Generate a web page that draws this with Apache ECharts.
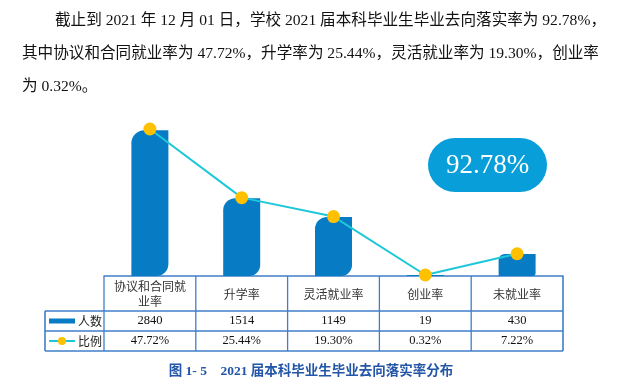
<!DOCTYPE html>
<html><head><meta charset="utf-8">
<script src="https://cdn.jsdelivr.net/npm/echarts@6/dist/echarts.min.js"></script>
<style>html,body{margin:0;padding:0;background:#fff}#c{width:628px;height:389px}</style>
</head><body><div id="c"></div>
<script>
const categories = ['协议和合同就业率', '升学率', '灵活就业率', '创业率', '未就业率'];
const counts = [2840, 1514, 1149, 19, 430];
const ratios = [47.72, 25.44, 19.30, 0.32, 7.22];
const ratioLabels = ['47.72%', '25.44%', '19.30%', '0.32%', '7.22%'];
const seriesNames = ['人数', '比例'];
const totalRate = '92.78%';
const paragraphLines = [
  '截止到 2021 年 12 月 01 日，学校 2021 届本科毕业生毕业去向落实率为 92.78%，',
  '其中协议和合同就业率为 47.72%，升学率为 25.44%，灵活就业率为 19.30%，创业率',
  '为 0.32%。'
];
const caption = '图 1- 5    2021 届本科毕业生毕业去向落实率分布';

const BAR = '#077cc4', LINE = '#1cc8d8', DOT = '#ffc000', TBL = '#3f7fc8';
const SERIF = "'Liberation Serif','Noto Sans CJK SC'";
const SANS = "'Noto Sans CJK SC'";

const chart = echarts.init(document.getElementById('c'), null, {renderer: 'canvas'});
const radii = [[13,0,12,0],[12,0,11,0],[12,0,11,0],[0,0,0,0],[6,0,3,0]];

const valueAxisCommon = {type: 'category', position: 'bottom', offset: 0,
  axisLine: {show: false}, axisTick: {show: false}, splitLine: {show: false}};

chart.setOption({
  animation: false,
  grid: {left: 104, right: 65, top: 122, bottom: 113},
  xAxis: [
    {type: 'category', data: categories, position: 'bottom',
     axisLine: {show: true, lineStyle: {color: TBL, width: 1.5}},
     axisTick: {show: false},
     axisLabel: {interval: 0, margin: 18, verticalAlign: 'middle', width: 80, overflow: 'break',
       lineHeight: 15, fontSize: 12, color: '#333', fontFamily: SANS}},
    Object.assign({}, valueAxisCommon, {data: counts.map(String),
     axisLabel: {interval: 0, margin: 45, verticalAlign: 'middle', fontSize: 12.5, color: '#111', fontFamily: SERIF}}),
    Object.assign({}, valueAxisCommon, {data: ratioLabels,
     axisLabel: {interval: 0, margin: 65, verticalAlign: 'middle', fontSize: 12.5, color: '#111', fontFamily: SERIF}})
  ],
  yAxis: [
    {type: 'value', min: 0, max: 3000, show: false, splitLine: {show: false}},
    {type: 'value', min: 0, max: 50, show: false, splitLine: {show: false}}
  ],
  series: [
    {name: seriesNames[0], type: 'bar', barWidth: 37, yAxisIndex: 0,
     data: counts.map((v, i) => ({value: v, itemStyle: {borderRadius: radii[i]}})),
     itemStyle: {color: BAR}, z: 2},
    {name: seriesNames[1], type: 'line', yAxisIndex: 1, data: ratios,
     symbol: 'circle', symbolSize: 13, itemStyle: {color: DOT},
     lineStyle: {color: LINE, width: 2}, z: 3}
  ]
});

// table + decorations
const cx = categories.map((c, i) => chart.convertToPixel({xAxisIndex: 0}, i));
const colW = cx[1] - cx[0];
const edges = cx.map(x => x - colW / 2).concat([cx[cx.length - 1] + colW / 2]);
const axisY = chart.convertToPixel({yAxisIndex: 0}, 0);
const tblLeft = 45, row1 = axisY + 35, row2 = row1 + 20, bottom = row2 + 20;
const els = [];
const ln = (x1, y1, x2, y2, w) => els.push({type: 'line', shape: {x1, y1, x2, y2},
  style: {stroke: TBL, lineWidth: w || 1.3}, silent: true});
edges.forEach((x, i) => ln(x, axisY, x, bottom, (i === edges.length - 1) ? 1.6 : 1.3));
ln(tblLeft, row1, edges[edges.length - 1], row1, 1.6);
ln(tblLeft, row2, edges[edges.length - 1], row2, 1.6);
ln(tblLeft, bottom, edges[edges.length - 1], bottom, 1.6);
ln(tblLeft, row1, tblLeft, bottom, 1.6);
// legend cells
const l1 = (row1 + row2) / 2, l2 = (row2 + bottom) / 2;
els.push({type: 'rect', shape: {x: 49, y: l1 - 2.5, width: 26, height: 5}, style: {fill: BAR}});
els.push({type: 'line', shape: {x1: 49, y1: l2, x2: 75, y2: l2}, style: {stroke: LINE, lineWidth: 2}});
els.push({type: 'circle', shape: {cx: 62, cy: l2, r: 4}, style: {fill: DOT}});
els.push({type: 'text', x: 78, y: l1, style: {text: seriesNames[0], font: '12px ' + SANS, fill: '#222', verticalAlign: 'middle'}});
els.push({type: 'text', x: 78, y: l2, style: {text: seriesNames[1], font: '12px ' + SANS, fill: '#222', verticalAlign: 'middle'}});
// badge
els.push({type: 'rect', shape: {x: 428, y: 138, width: 119, height: 54, r: 27}, style: {fill: '#089ed9'}});
els.push({type: 'text', x: 487.5, y: 166, style: {text: totalRate, font: '27px ' + SERIF, fill: '#fff', align: 'center', verticalAlign: 'middle'}});
// paragraph
const paraX = [55, 22, 22], paraY = [21, 54, 87];
paragraphLines.forEach((t, i) => els.push({type: 'text', x: paraX[i], y: paraY[i],
  style: {text: t, font: '15.6px ' + SERIF, fill: '#111', verticalAlign: 'middle'}}));
// caption
els.push({type: 'text', x: 311, y: 372, style: {text: caption, font: 'bold 13.5px ' + SERIF, fill: '#2356a6', align: 'center', verticalAlign: 'middle'}});
chart.setOption({graphic: {elements: els}});
</script></body></html>
